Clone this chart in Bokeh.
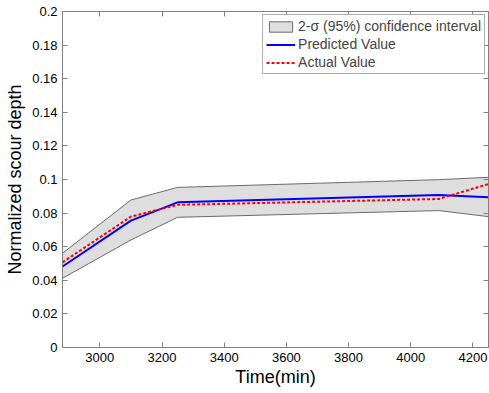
from bokeh.plotting import figure
from bokeh.models import LinearAxis, FixedTicker, Range1d, Legend, LegendItem
from bokeh.embed import file_html
from bokeh.resources import INLINE

# ---- data ----
time_min = [2880, 3100, 3250, 4090, 4250]
predicted = [0.0482, 0.0755, 0.0864, 0.0908, 0.0894]
actual = [0.0507, 0.0779, 0.0849, 0.0884, 0.0973]
upper_ci = [0.0561, 0.0878, 0.0953, 0.0999, 0.1013]
lower_ci = [0.0412, 0.0640, 0.0775, 0.0815, 0.0779]

x_ticks = [3000, 3200, 3400, 3600, 3800, 4000, 4200]
y_ticks = [0, 0.02, 0.04, 0.06, 0.08, 0.1, 0.12, 0.14, 0.16, 0.18, 0.2]
y_tick_labels = ["0", "0.02", "0.04", "0.06", "0.08", "0.1", "0.12", "0.14", "0.16", "0.18", "0.2"]

FONT = "Liberation Sans"
AXC = "#808080"

p = figure(width=489, height=393, output_backend="svg", toolbar_location=None,
           x_range=Range1d(2880, 4250), y_range=Range1d(0, 0.2),
           min_border_left=62, min_border_right=1, min_border_top=11, min_border_bottom=46)
p.outline_line_color = None
p.xgrid.visible = False
p.ygrid.visible = False
p.background_fill_color = "white"

# confidence band
xs = time_min + time_min[::-1]
ys = upper_ci + lower_ci[::-1]
band = p.patch(xs, ys, fill_color="#dedede", line_color="#6a6a6a", line_width=1)
pred = p.line(time_min, predicted, line_color="#0000ff", line_width=2)
act = p.line(time_min, actual, line_color="#ff0000", line_width=2, line_dash="3 2")

# axes
p.add_layout(LinearAxis(), "above")
p.add_layout(LinearAxis(), "right")
for ax in p.axis:
    ax.axis_line_color = AXC
    ax.major_tick_line_color = AXC
    ax.minor_tick_line_color = None
    ax.major_tick_in = 5
    ax.major_tick_out = 0
    ax.major_label_text_font = FONT
    ax.major_label_text_font_size = "13px"
    ax.major_label_text_color = "black"
    ax.axis_label_text_font = FONT
    ax.axis_label_text_font_style = "normal"
    ax.axis_label_text_font_size = "18px"
    ax.axis_label_text_color = "black"

for ax in p.below + p.above:
    ax.ticker = FixedTicker(ticks=x_ticks)
for ax in p.left + p.right:
    ax.ticker = FixedTicker(ticks=y_ticks)
    ax.major_label_overrides = {t: l for t, l in zip(y_ticks, y_tick_labels)}

p.above[0].major_label_overrides = {t: "" for t in x_ticks}
p.right[0].major_label_overrides = {t: "" for t in y_ticks}
for ax in p.above + p.right:
    ax.major_label_standoff = 0
    ax.major_label_text_font_size = "0px"

p.below[0].axis_label = "Time(min)"
p.below[0].major_label_standoff = 5
p.below[0].axis_label_standoff = 2
p.left[0].axis_label = "Normalized scour depth"
p.left[0].major_label_standoff = 5
p.left[0].axis_label_standoff = 4

legend = Legend(items=[
    LegendItem(label="2-σ (95%) confidence interval", renderers=[band]),
    LegendItem(label="Predicted Value", renderers=[pred]),
    LegendItem(label="Actual Value", renderers=[act]),
], location="top_right")
legend.label_text_font = FONT
legend.label_text_font_size = "14px"
legend.label_height = 13
legend.glyph_height = 13
legend.glyph_width = 29
legend.spacing = 2
legend.padding = 3
legend.margin = 3
legend.label_standoff = 3
legend.border_line_color = "#595959"
legend.border_line_width = 1
legend.background_fill_color = "white"
legend.background_fill_alpha = 1.0
p.add_layout(legend)

open("out.html", "w").write(file_html(p, INLINE))
